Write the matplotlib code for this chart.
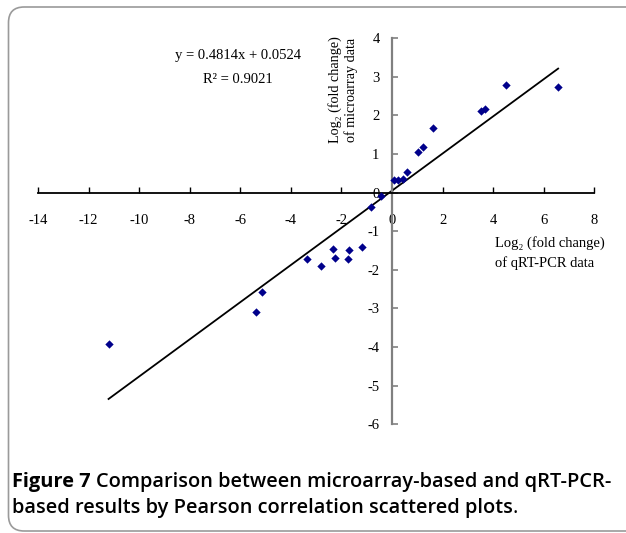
import matplotlib
matplotlib.use("Agg")
import matplotlib.pyplot as plt
from matplotlib.patches import FancyBboxPatch
import numpy as np

# data
qrt_pcr = [-11.21, -5.38, -5.16, -3.36, -2.79, -2.33, -2.25, -1.73, -1.70, -1.19,
           -0.85, -0.42, 0.08, 0.25, 0.44, 0.61, 1.02, 1.24, 1.62, 3.50, 3.67, 4.50, 6.57]
microarray = [-3.92, -3.10, -2.58, -1.73, -1.90, -1.46, -1.69, -1.71, -1.48, -1.41,
              -0.38, -0.09, 0.33, 0.33, 0.35, 0.54, 1.06, 1.19, 1.67, 2.11, 2.18, 2.79, 2.73]
slope, intercept = 0.4814, 0.0524
x_ticks = [-14, -12, -10, -8, -6, -4, -2, 0, 2, 4, 6, 8]
y_ticks = [-6, -5, -4, -3, -2, -1, 0, 1, 2, 3, 4]

W, H = 626, 533
fig = plt.figure(figsize=(W / 100, H / 100), dpi=100)
serif = ['Liberation Serif', 'DejaVu Serif']

# rounded border
border = FancyBboxPatch((8.5 / W, 2 / H), 640 / W, (526 - 2) / H,
                        boxstyle="round,pad=0,rounding_size=0.025",
                        transform=fig.transFigure, fill=False,
                        edgecolor='#9a9a9a', linewidth=1.2, mutation_aspect=W / H)
fig.patches.append(border)

ax = fig.add_axes([38 / W, 108.7 / H, 556.3 / W, 386 / H])
ax.set_xlim(-14, 8)
ax.set_ylim(-6, 4)
ax.patch.set_alpha(0)

ax.spines['left'].set_position(('data', 0))
ax.spines['bottom'].set_position(('data', 0))
ax.spines['right'].set_visible(False)
ax.spines['top'].set_visible(False)
ax.spines['left'].set_color('#808080')
ax.spines['left'].set_linewidth(1.6)
ax.spines['bottom'].set_color('black')
ax.spines['bottom'].set_linewidth(1.3)

ax.set_xticks(x_ticks)
ax.set_yticks(y_ticks)
ax.set_xticklabels([str(t) for t in x_ticks], fontfamily=serif, fontsize=10.5)
ax.set_yticklabels([str(t) for t in y_ticks], fontfamily=serif, fontsize=10.5)
ax.tick_params(axis='x', direction='in', length=4, width=1, color='black', pad=15)
ax.tick_params(axis='y', direction='in', length=4, width=1.2, color='#808080', pad=9)

xs = np.array([min(qrt_pcr), max(qrt_pcr)])
ax.plot(xs, slope * xs + intercept, color='black', linewidth=1.3, zorder=2)
ax.scatter(qrt_pcr, microarray, marker='D', s=18, color='#00008b', zorder=3, linewidths=0)

ax.text(-6.1, 3.56, "y = 0.4814x + 0.0524", fontfamily=serif, fontsize=10.5,
        ha='center', va='center')
ax.text(-6.1, 2.92, "R² = 0.9021", fontfamily=serif, fontsize=10.5,
        ha='center', va='center')

ax.text(-2.25, 2.66, "Log₂ (fold change)", fontfamily=serif, fontsize=10.2,
        rotation=90, ha='center', va='center')
ax.text(-1.6, 2.66, "of microarray data", fontfamily=serif, fontsize=10.2,
        rotation=90, ha='center', va='center')

ax.text(4.08, -1.3, "Log₂ (fold change)", fontfamily=serif, fontsize=10.5,
        ha='left', va='center')
ax.text(4.08, -1.82, "of qRT-PCR data", fontfamily=serif, fontsize=10.5,
        ha='left', va='center')

# caption
cap_font = ['Open Sans', 'DejaVu Sans']
fs = 14.4
fig.canvas.draw()
renderer = fig.canvas.get_renderer()

def put(x_px, y_px, s, weight):
    t = fig.text(x_px / W, 1 - y_px / H, s, fontfamily=cap_font, fontsize=fs,
                 fontweight=weight, ha='left', va='baseline')
    bb = t.get_window_extent(renderer=renderer)
    return bb.x1

x = put(12, 487, "Figure 7", 'bold')
put(x + 5, 487, "Comparison between microarray-based and qRT-PCR-", 'semibold')
x2 = put(12, 513, "based results by Pearson correlation scattered plots", 'semibold')
put(x2, 513, ".", 'normal')

fig.savefig("out.png", dpi=100)
